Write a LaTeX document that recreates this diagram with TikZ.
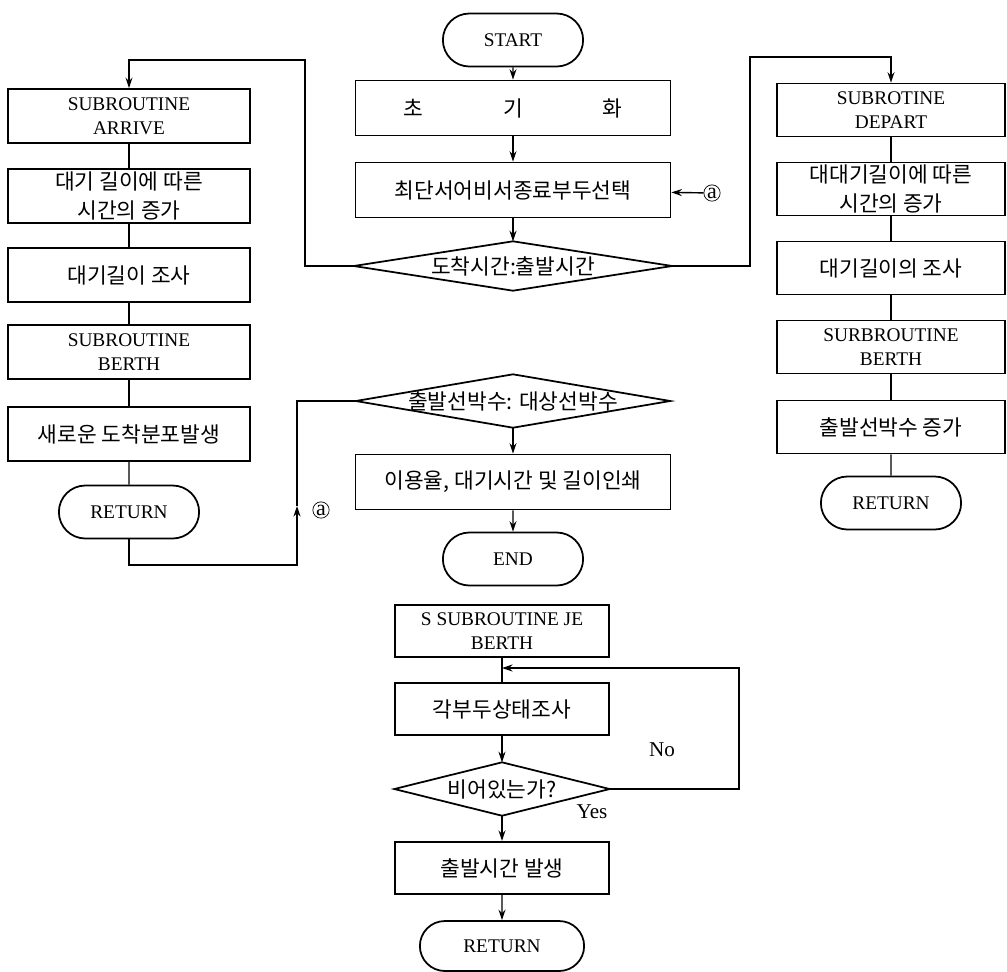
\documentclass[tikz,border=0pt]{standalone}
\usepackage{fontspec}
\setmainfont{Liberation Serif}
\newfontfamily\kr{Noto Sans CJK KR}
\usetikzlibrary{positioning,shapes.misc,arrows.meta}

\begin{document}
\begin{tikzpicture}[x=0.02cm, y=-0.02cm, thick, >={Stealth[length=6pt,width=4pt]},
	box node/.style={rectangle,draw,line width=1pt,align=center,inner sep=1pt,
		font=\fontsize{11}{13.5}\selectfont},
	kr node/.style={box node,font=\kr\fontsize{12.2}{16}\selectfont},
	term node/.style={rounded rectangle,draw,line width=1pt,minimum width=3.04cm,
		minimum height=1.06cm,font=\fontsize{11}{14}\selectfont},
	dec node/.style={rectangle,inner sep=0pt,font=\kr\fontsize{12.2}{15}\selectfont},
	mid col/.style={minimum width=6.3cm,minimum height=1.1cm},
	side col/.style={minimum width=4.84cm,minimum height=1.08cm},
	right col/.style={minimum width=4.56cm,minimum height=1.06cm},
	low col/.style={minimum width=4.28cm,minimum height=1.05cm},
	mark node/.style={circle,draw,thin,inner sep=0.4pt,font=\fontsize{12.5}{13}\selectfont}]
	
	\useasboundingbox (0,0) rectangle (1007,971);
	
	% main program
	\node[term node] (1) at (513,40) {START};
	\node[kr node,mid col] (2) at (513,108) {초\hskip1.6cm 기\hskip1.6cm 화};
	\node[kr node,mid col] (3) at (513,190) {최단서어비서종료부두선택};
	\node[dec node,minimum width=6.34cm,minimum height=0.96cm] (4) at (513,266) {도착시간:출발시간};
	\node[dec node,minimum width=6.26cm,minimum height=1.04cm] (5) at (513,401) {출발선박수: 대상선박수};
	\node[kr node,mid col] (6) at (513,482) {이용율, 대기시간 및 길이인쇄};
	\node[term node] (7) at (513,559) {END};
	
	% arrive
	\node[box node,side col] (8) at (129,116) {SUBROUTINE\\ARRIVE};
	\node[kr node,side col] (9) at (129,196) {대기 길이에 따른\\시간의 증가};
	\node[kr node,side col] (10) at (129,275) {대기길이 조사};
	\node[box node,side col] (11) at (129,352) {SUBROUTINE\\BERTH};
	\node[kr node,side col] (12) at (129,434) {새로운 도착분포발생};
	\node[term node] (13) at (129,512) {RETURN};
	
	% depart
	\node[box node,right col] (14) at (891,110) {SUBROTINE\\DEPART};
	\node[kr node,right col] (15) at (891,189) {대대기길이에 따른\\시간의 증가};
	\node[kr node,right col] (16) at (891,268) {대기길이의 조사};
	\node[box node,right col] (17) at (891,347) {SURBROUTINE\\BERTH};
	\node[kr node,right col] (18) at (891,427) {출발선박수 증가};
	\node[term node] (19) at (891,503) {RETURN};
	
	% berth
	\node[box node,low col] (20) at (502,631) {S SUBROUTINE JE\\BERTH};
	\node[kr node,low col] (21) at (502,709) {각부두상태조사};
	\node[dec node,minimum width=4.28cm,minimum height=1.04cm] (22) at (502,789) {비어있는가?};
	\node[kr node,low col] (23) at (502,868) {출발시간 발생};
	\node[term node,minimum width=3.52cm,minimum height=1cm] (24) at (502,946) {RETURN};
	
	\foreach \n in {4,5,22}
	\draw[line width=1pt] (\n.west) -- (\n.north) -- (\n.east) -- (\n.south) -- cycle;
	
	\node[mark node] (a1) at (712,193) {a};
	\node[mark node] (a2) at (321,510) {a};
	\node[font=\fontsize{12}{14}\selectfont] (no) at (662,750) {No};
	\node[font=\fontsize{12}{14}\selectfont] (yes) at (592,812) {Yes};
	
	\coordinate (c1) at (305,60);
	\coordinate (c2) at (750,57);
	\coordinate (c3) at (297,565);
	\coordinate (c4) at (297,506);
	\coordinate (c5) at (739,668);
	\coordinate (c6) at (502,668);
	
	\path[->]
	(1) edge (2)
	(2) edge (3)
	(3) edge (4)
	(5) edge (6)
	(6) edge (7)
	(a1) edge (3)
	(21) edge (22)
	(22) edge (23)
	(23) edge (24);
	
	\path
	(8) edge (9) (9) edge (10) (10) edge (11) (11) edge (12) (12) edge (13)
	(14) edge (15) (15) edge (16) (16) edge (17) (17) edge (18) (18) edge (19)
	(20) edge (21);
	
	\draw[->] (4.west) -| (c1) -| (8.north);
	\draw[->] (4.east) -| (c2) -| (14.north);
	\draw[->] (13.south) |- (c3) -- (c4);
	\draw (c4) |- (5.west);
	\draw[->] (22.east) -| (c5) -- (c6);
\end{tikzpicture}
\end{document}
